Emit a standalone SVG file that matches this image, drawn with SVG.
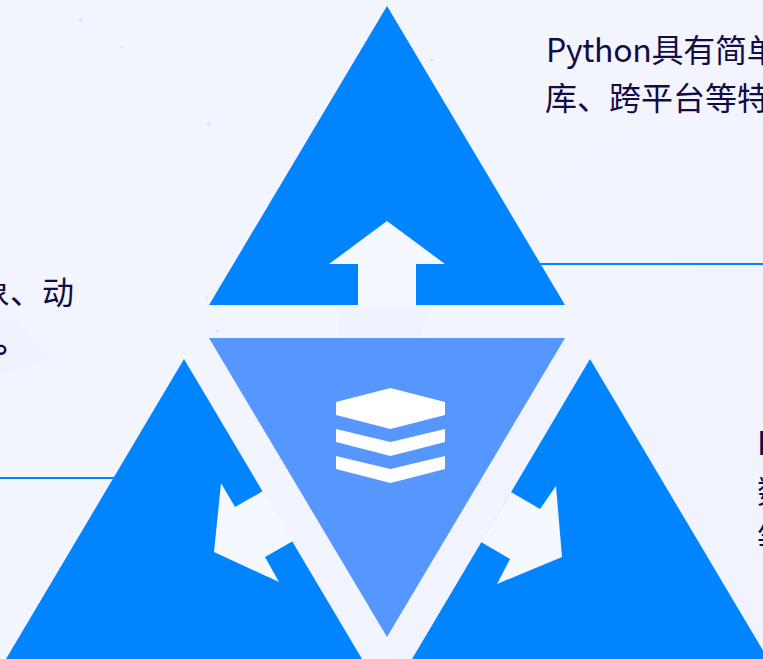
<svg xmlns="http://www.w3.org/2000/svg" width="763" height="659" viewBox="0 0 763 659">
<style>
.t{font-family:"Noto Sans CJK SC","Noto Sans",sans-serif;font-size:32px;fill:#120b45}
.py{letter-spacing:-.3px}
.blue{fill:#0084ff}
.mid{fill:#5596ff}
.arrow{fill:#f5f8ff}
.stack{fill:#fff}
.line{stroke:#0084ff;stroke-width:2;fill:none}
.tint{fill:#eceefb;opacity:.3}
.dot{fill:#e0e3f0}
</style>
<defs>
<linearGradient id="bg" x1="0" y1="0" x2="1" y2="1">
<stop offset="0" stop-color="#f3f5fe"/>
<stop offset="1" stop-color="#f1f4ff"/>
</linearGradient>
</defs>
<rect width="763" height="659" fill="url(#bg)"/>
<g id="background">
<polygon class="tint" points="0,310 56,358 0,376"/>
<polygon class="tint" points="340,306 430,306 420,338 338,338"/>
<circle class="dot" cx="209" cy="124" r="2"/>
<circle class="dot" cx="122" cy="47" r="1.5"/>
<circle class="dot" cx="81" cy="20" r="2"/>
<circle class="dot" cx="432" cy="60" r="1.5"/>
<circle class="dot" cx="207" cy="298" r="1.5"/>
<circle class="dot" cx="217" cy="331" r="1.5"/>
</g>
<g id="connectors">
<line class="line" x1="535" y1="264" x2="763" y2="264"/>
<line class="line" x1="0" y1="478" x2="120" y2="478"/>
</g>
<g id="node-top">
<polygon class="blue" points="387,6 565,305 209,305"/>
<polygon class="arrow" points="387,221 445,264 416,264 416,306 358,306 358,264 329,264"/>
</g>
<g id="node-center">
<polygon class="mid" points="209,338 565,338 387,637"/>
<g class="stack">
<polygon points="390.5,388 445,402 445,415 390.5,429 336,415 336,402"/>
<polygon points="336,429 390.5,442 445,429 445,442 390.5,456 336,442"/>
<polygon points="336,456 390.5,469 445,456 445,469 390.5,483 336,469"/>
</g>
</g>
<g id="node-left">
<polygon class="blue" points="184,359 362,659 6,659"/>
<polygon class="arrow" points="221,483 235,507 263,491 293,541 265,557 279,582 214,552"/>
</g>
<g id="node-right">
<polygon class="blue" points="590,359 768,659 412,659"/>
<polygon class="arrow" points="556,486 540,509 511,492 481,542 510,559 497,584 562,557"/>
</g>
<g id="text-top">
<text class="t py" x="546" y="62">Python具有简单</text>
<text class="t" x="545" y="110">库、跨平台等特</text>
</g>
<g id="text-left">
<text class="t" x="-22" y="304">象、动</text>
<text class="t" x="-5" y="352" font-weight="700">。</text>
</g>
<g id="text-right">
<text class="t" x="757" y="455">P</text>
<text class="t" x="757" y="503">数</text>
<text class="t" x="757" y="551">等</text>
</g>
</svg>
